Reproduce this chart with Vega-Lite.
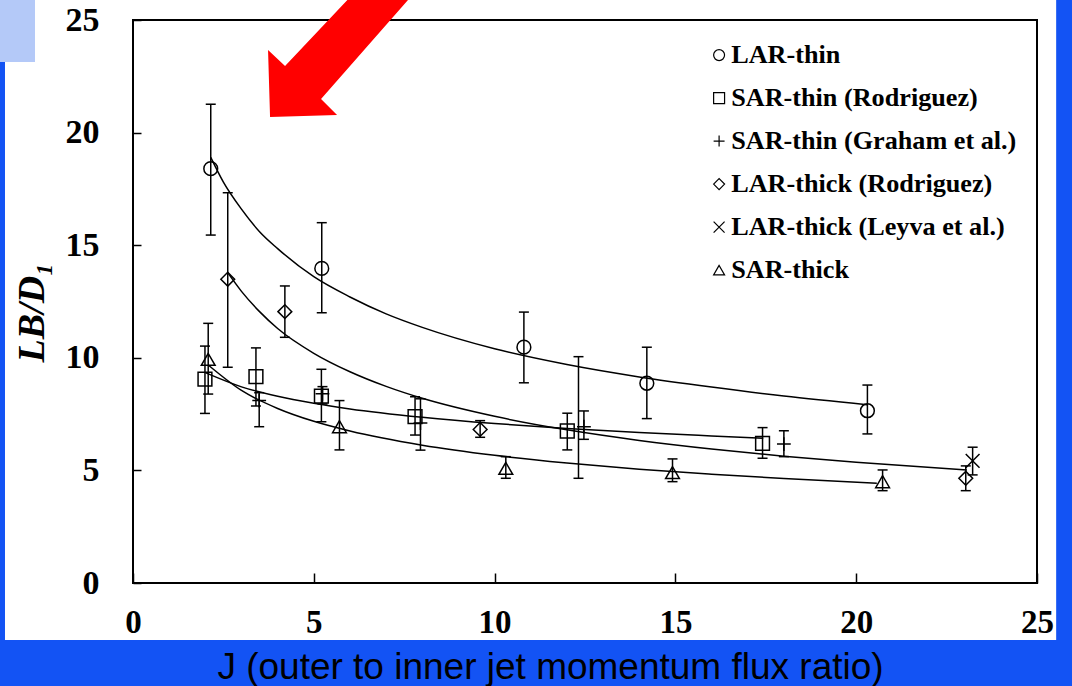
{
  "$schema": "https://vega.github.io/schema/vega-lite/v6.json",
  "width": 904,
  "height": 563,
  "autosize": {"type": "none"},
  "padding": {"left": 133, "top": 20, "right": 35, "bottom": 103},
  "background": "#1353f4",
  "config": {"view": {"stroke": null}},
  "datasets": {
    "points": [
      {"series": "LAR-thin", "J": 2.15, "L": 18.4, "lo": 15.45, "hi": 21.26},
      {"series": "LAR-thin", "J": 5.22, "L": 13.97, "lo": 12.0, "hi": 16.0},
      {"series": "LAR-thin", "J": 10.81, "L": 10.47, "lo": 8.89, "hi": 12.03},
      {"series": "LAR-thin", "J": 14.21, "L": 8.87, "lo": 7.3, "hi": 10.47},
      {"series": "LAR-thin", "J": 20.31, "L": 7.65, "lo": 6.62, "hi": 8.79},
      {"series": "SAR-thin (Rodriguez)", "J": 1.99, "L": 9.05, "lo": 7.53, "hi": 10.52},
      {"series": "SAR-thin (Rodriguez)", "J": 3.4, "L": 9.16, "lo": 7.86, "hi": 10.44},
      {"series": "SAR-thin (Rodriguez)", "J": 5.21, "L": 8.3, "lo": 7.16, "hi": 9.49},
      {"series": "SAR-thin (Rodriguez)", "J": 7.8, "L": 7.39, "lo": 6.57, "hi": 8.27},
      {"series": "SAR-thin (Rodriguez)", "J": 12.01, "L": 6.75, "lo": 5.91, "hi": 7.54},
      {"series": "SAR-thin (Rodriguez)", "J": 17.41, "L": 6.2, "lo": 5.54, "hi": 6.9},
      {"series": "SAR-thin (Graham et al.)", "J": 3.49, "L": 8.1, "lo": 6.94, "hi": 8.45},
      {"series": "SAR-thin (Graham et al.)", "J": 5.24, "L": 8.4, "lo": 7.95, "hi": 8.72},
      {"series": "SAR-thin (Graham et al.)", "J": 7.95, "L": 7.1, "lo": 5.9, "hi": 8.18},
      {"series": "SAR-thin (Graham et al.)", "J": 12.47, "L": 6.94, "lo": 6.38, "hi": 7.64},
      {"series": "SAR-thin (Graham et al.)", "J": 18.0, "L": 6.17, "lo": 5.61, "hi": 6.76},
      {"series": "LAR-thick (Rodriguez)", "J": 2.62, "L": 13.49, "lo": 9.58, "hi": 17.33},
      {"series": "LAR-thick (Rodriguez)", "J": 4.2, "L": 12.05, "lo": 10.91, "hi": 13.19},
      {"series": "LAR-thick (Rodriguez)", "J": 9.6, "L": 6.82, "lo": 6.47, "hi": 7.21},
      {"series": "LAR-thick (Rodriguez)", "J": 12.32, "L": null, "lo": 4.65, "hi": 10.05},
      {"series": "LAR-thick (Rodriguez)", "J": 23.03, "L": 4.65, "lo": 4.1, "hi": 5.2},
      {"series": "LAR-thick (Leyva et al.)", "J": 23.22, "L": 5.42, "lo": 4.8, "hi": 6.03},
      {"series": "SAR-thick", "J": 2.08, "L": 9.93, "lo": 8.39, "hi": 11.53},
      {"series": "SAR-thick", "J": 5.71, "L": 6.94, "lo": 5.91, "hi": 8.1},
      {"series": "SAR-thick", "J": 10.31, "L": 5.09, "lo": 4.65, "hi": 5.61},
      {"series": "SAR-thick", "J": 14.92, "L": 4.9, "lo": 4.5, "hi": 5.51},
      {"series": "SAR-thick", "J": 20.73, "L": 4.5, "lo": 4.1, "hi": 5.02}
    ],
    "curves": [
      {"series": "LAR-thin", "J": 2.15, "L": 18.9},
      {"series": "LAR-thin", "J": 2.5, "L": 17.8},
      {"series": "LAR-thin", "J": 3, "L": 16.6},
      {"series": "LAR-thin", "J": 3.5, "L": 15.6},
      {"series": "LAR-thin", "J": 4, "L": 14.85},
      {"series": "LAR-thin", "J": 5, "L": 13.6},
      {"series": "LAR-thin", "J": 6, "L": 12.7},
      {"series": "LAR-thin", "J": 7, "L": 11.95},
      {"series": "LAR-thin", "J": 8, "L": 11.35},
      {"series": "LAR-thin", "J": 10, "L": 10.4},
      {"series": "LAR-thin", "J": 12, "L": 9.7},
      {"series": "LAR-thin", "J": 14, "L": 9.15},
      {"series": "LAR-thin", "J": 16, "L": 8.7},
      {"series": "LAR-thin", "J": 18, "L": 8.3},
      {"series": "LAR-thin", "J": 20.3, "L": 7.92},
      {"series": "LAR-thick (Rodriguez)", "J": 2.62, "L": 13.78},
      {"series": "LAR-thick (Rodriguez)", "J": 3, "L": 12.95},
      {"series": "LAR-thick (Rodriguez)", "J": 3.5, "L": 12.05},
      {"series": "LAR-thick (Rodriguez)", "J": 4, "L": 11.3},
      {"series": "LAR-thick (Rodriguez)", "J": 5, "L": 10.2},
      {"series": "LAR-thick (Rodriguez)", "J": 6, "L": 9.38},
      {"series": "LAR-thick (Rodriguez)", "J": 7, "L": 8.73},
      {"series": "LAR-thick (Rodriguez)", "J": 8, "L": 8.2},
      {"series": "LAR-thick (Rodriguez)", "J": 10, "L": 7.4},
      {"series": "LAR-thick (Rodriguez)", "J": 12, "L": 6.8},
      {"series": "LAR-thick (Rodriguez)", "J": 14, "L": 6.33},
      {"series": "LAR-thick (Rodriguez)", "J": 16, "L": 5.95},
      {"series": "LAR-thick (Rodriguez)", "J": 18, "L": 5.63},
      {"series": "LAR-thick (Rodriguez)", "J": 20, "L": 5.36},
      {"series": "LAR-thick (Rodriguez)", "J": 23.06, "L": 5.02},
      {"series": "SAR-thin (Rodriguez)", "J": 2.0, "L": 9.34},
      {"series": "SAR-thin (Rodriguez)", "J": 3, "L": 8.71},
      {"series": "SAR-thin (Rodriguez)", "J": 4, "L": 8.29},
      {"series": "SAR-thin (Rodriguez)", "J": 5, "L": 7.98},
      {"series": "SAR-thin (Rodriguez)", "J": 6, "L": 7.73},
      {"series": "SAR-thin (Rodriguez)", "J": 8, "L": 7.36},
      {"series": "SAR-thin (Rodriguez)", "J": 10, "L": 7.08},
      {"series": "SAR-thin (Rodriguez)", "J": 12, "L": 6.86},
      {"series": "SAR-thin (Rodriguez)", "J": 14, "L": 6.68},
      {"series": "SAR-thin (Rodriguez)", "J": 16, "L": 6.53},
      {"series": "SAR-thin (Rodriguez)", "J": 17.43, "L": 6.43},
      {"series": "SAR-thick", "J": 2.08, "L": 9.68},
      {"series": "SAR-thick", "J": 3, "L": 8.55},
      {"series": "SAR-thick", "J": 4, "L": 7.75},
      {"series": "SAR-thick", "J": 5, "L": 7.18},
      {"series": "SAR-thick", "J": 6, "L": 6.75},
      {"series": "SAR-thick", "J": 8, "L": 6.12},
      {"series": "SAR-thick", "J": 10, "L": 5.67},
      {"series": "SAR-thick", "J": 12, "L": 5.33},
      {"series": "SAR-thick", "J": 14, "L": 5.05},
      {"series": "SAR-thick", "J": 16, "L": 4.83},
      {"series": "SAR-thick", "J": 18, "L": 4.64},
      {"series": "SAR-thick", "J": 20.57, "L": 4.43}
    ]
  },
  "layer": [
    {
      "data": {"values": [{}]},
      "mark": {"type": "rect", "fill": "white"},
      "encoding": {
        "x": {
          "datum": -3.54, "type": "quantitative",
          "scale": {"domain": [0, 25], "nice": false},
          "axis": {
            "title": "J (outer to inner jet momentum flux ratio)",
            "values": [0, 5, 10, 15, 20, 25],
            "domain": false, "grid": false, "ticks": true, "offset": -10,
            "tickSize": 10, "tickColor": "black", "tickWidth": 1.5,
            "labelFont": "Liberation Serif", "labelFontWeight": "bold", "labelFontSize": 33,
            "labelColor": "black", "labelPadding": 23, "labelFlush": false, "labelOverlap": false,
            "titleFont": "Liberation Sans", "titleFontWeight": "normal", "titleFontSize": 37,
            "titleColor": "black", "titleX": 417, "titleY": 105, "titleBaseline": "alphabetic",
            "titleAlign": "center", "zindex": 1
          }
        },
        "x2": {"datum": 25.53},
        "y": {
          "datum": -2.53, "type": "quantitative",
          "scale": {"domain": [0, 25], "nice": false},
          "axis": {
            "title": "LB/D₁",
            "values": [0, 5, 10, 15, 20, 25],
            "domain": false, "grid": false, "ticks": true, "offset": -8,
            "tickSize": 8, "tickColor": "black", "tickWidth": 1.5,
            "labelFont": "Liberation Serif", "labelFontWeight": "bold", "labelFontSize": 34,
            "labelColor": "black", "labelPadding": 34, "labelFlush": false, "labelOverlap": false,
            "titleFont": "Liberation Serif", "titleFontWeight": "bold", "titleFontStyle": "italic",
            "titleFontSize": 38, "titleColor": "black", "titleAngle": -90,
            "titleX": -98, "titleY": 292, "titleBaseline": "alphabetic", "titleAlign": "center",
            "zindex": 1
          }
        },
        "y2": {"datum": 26.2}
      }
    },
    {
      "data": {"values": [{}]},
      "mark": {"type": "rect", "fill": "#b4c9f8"},
      "encoding": {
        "x": {"datum": -3.7, "type": "quantitative"},
        "x2": {"datum": -2.71},
        "y": {"datum": 23.13, "type": "quantitative"},
        "y2": {"datum": 26.2}
      }
    },
    {
      "data": {"name": "curves"},
      "mark": {"type": "line", "color": "black", "strokeWidth": 1.5, "interpolate": "monotone"},
      "encoding": {
        "x": {"field": "J", "type": "quantitative"},
        "y": {"field": "L", "type": "quantitative"},
        "detail": {"field": "series"}
      }
    },
    {
      "data": {"name": "points"},
      "mark": {"type": "rule", "color": "black", "strokeWidth": 1.5},
      "encoding": {
        "x": {"field": "J", "type": "quantitative"},
        "y": {"field": "lo", "type": "quantitative"},
        "y2": {"field": "hi"}
      }
    },
    {
      "data": {"name": "points"},
      "mark": {"type": "point", "shape": "M-1,0L1,0", "size": 100, "color": "black", "strokeWidth": 1.5, "filled": false, "opacity": 1},
      "encoding": {
        "x": {"field": "J", "type": "quantitative"},
        "y": {"field": "lo", "type": "quantitative"}
      }
    },
    {
      "data": {"name": "points"},
      "mark": {"type": "point", "shape": "M-1,0L1,0", "size": 100, "color": "black", "strokeWidth": 1.5, "filled": false, "opacity": 1},
      "encoding": {
        "x": {"field": "J", "type": "quantitative"},
        "y": {"field": "hi", "type": "quantitative"}
      }
    },
    {
      "data": {"name": "points"},
      "mark": {"type": "point", "size": 190, "color": "black", "strokeWidth": 1.5, "filled": false, "opacity": 1},
      "encoding": {
        "x": {"field": "J", "type": "quantitative"},
        "y": {"field": "L", "type": "quantitative"},
        "shape": {
          "field": "series", "type": "nominal",
          "scale": {
            "domain": ["LAR-thin", "SAR-thin (Rodriguez)", "SAR-thin (Graham et al.)", "LAR-thick (Rodriguez)", "LAR-thick (Leyva et al.)", "SAR-thick"],
            "range": ["circle", "square", "M-1,0L1,0M0,-1L0,1", "diamond", "M-1,-1L1,1M-1,1L1,-1", "triangle-up"]
          },
          "legend": {
            "title": null, "orient": "none", "legendX": 573, "legendY": 22,
            "padding": 0, "rowPadding": 16, "labelOffset": -1,
            "labelFont": "Liberation Serif", "labelFontWeight": "bold", "labelFontSize": 26.2,
            "labelColor": "black", "labelLimit": 400,
            "symbolSize": 120, "symbolStrokeColor": "black", "symbolStrokeWidth": 1.2,
            "symbolOpacity": 1
          }
        }
      }
    },
    {
      "data": {"values": [{}]},
      "mark": {"type": "rect", "fill": "transparent", "stroke": "black", "strokeWidth": 2},
      "encoding": {
        "x": {"datum": 0, "type": "quantitative"},
        "x2": {"datum": 25},
        "y": {"datum": 0, "type": "quantitative"},
        "y2": {"datum": 25}
      }
    },
    {
      "data": {"values": [{}]},
      "mark": {"type": "point", "shape": "M0,0L-2,-67L15,-51L115,-157L173,-157L51,-18L67,-2Z", "size": 4, "filled": true, "fill": "#ff0000", "stroke": null, "opacity": 1},
      "encoding": {
        "x": {"datum": 3.79, "type": "quantitative"},
        "y": {"datum": 20.69, "type": "quantitative"}
      }
    }
  ]
}
